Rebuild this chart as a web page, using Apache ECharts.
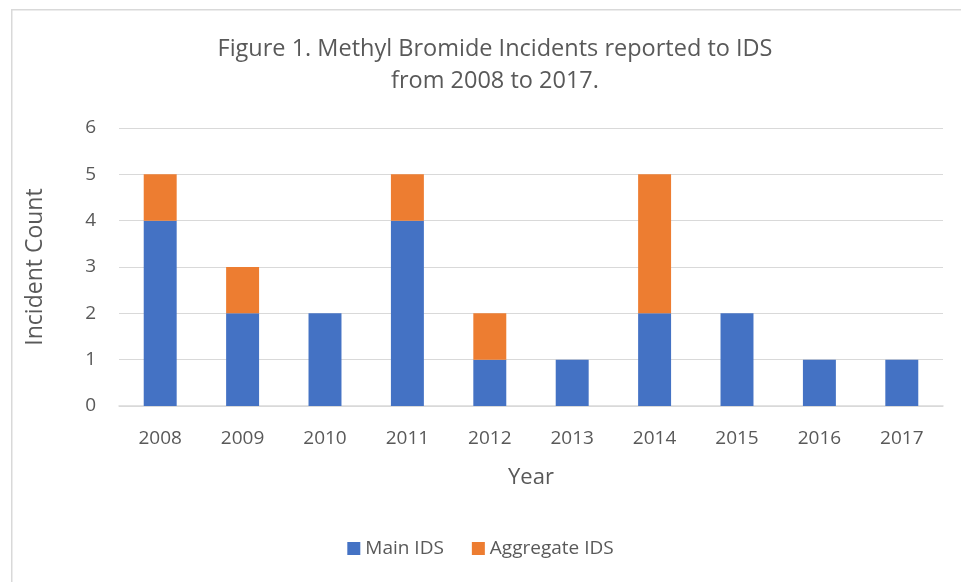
<!DOCTYPE html>
<html>
<head>
<meta charset="utf-8">
<script src="https://cdn.jsdelivr.net/npm/echarts@6/dist/echarts.min.js"></script>
<style>
html,body{margin:0;padding:0;background:#fff;}
#chart{width:961px;height:582px;}
</style>
</head>
<body>
<div id="chart"></div>
<script>
var years = ['2008','2009','2010','2011','2012','2013','2014','2015','2016','2017'];
var mainIDS = [4, 2, 2, 4, 1, 1, 2, 2, 1, 1];
var aggregateIDS = [1, 1, 0, 1, 1, 0, 3, 0, 0, 0];
var yTicks = [0, 6, 1];

var font = '"Open Sans", "Liberation Sans", sans-serif';
var txt = '#595959';
var chart = echarts.init(document.getElementById('chart'));
chart.setOption({
  animation: false,
  graphic: [{
    type: 'rect', left: 11, top: 9, z: -1,
    shape: { width: 960, height: 580 },
    style: { fill: '#fff', stroke: '#d9d9d9', lineWidth: 1.5 }
  }],
  title: {
    text: 'Figure 1. Methyl Bromide Incidents reported to IDS\nfrom 2008 to 2017.',
    left: 490, top: 28, textAlign: 'center',
    textStyle: { fontFamily: font, fontSize: 23.5, fontWeight: 'normal', color: txt, lineHeight: 32 }
  },
  legend: {
    bottom: 19, left: 'center', itemWidth: 13, itemHeight: 13, itemGap: 28,
    icon: 'rect',
    textStyle: { fontFamily: font, fontSize: 19, color: txt },
    data: ['Main IDS', 'Aggregate IDS']
  },
  grid: { left: 119, right: 18, top: 128, bottom: 176 },
  xAxis: {
    type: 'category', data: years,
    name: 'Year', nameLocation: 'middle', nameGap: 61,
    nameTextStyle: { fontFamily: font, fontSize: 22, color: txt },
    axisLine: { lineStyle: { color: '#d9d9d9', width: 1.5 } },
    axisTick: { show: false },
    axisLabel: { fontFamily: font, fontSize: 19, color: txt, margin: 23 }
  },
  yAxis: {
    type: 'value', min: yTicks[0], max: yTicks[1], interval: yTicks[2],
    name: 'Incident Count', nameLocation: 'middle', nameGap: 72,
    nameTextStyle: { fontFamily: font, fontSize: 23, color: txt },
    axisLine: { show: false }, axisTick: { show: false },
    axisLabel: { fontFamily: font, fontSize: 19, color: txt, margin: 23 },
    splitLine: { lineStyle: { color: '#d9d9d9', width: 1 } }
  },
  series: [{
    name: 'Main IDS', type: 'bar', stack: 'a', data: mainIDS,
    barCategoryGap: '60%', itemStyle: { color: '#4472C4' }
  }, {
    name: 'Aggregate IDS', type: 'bar', stack: 'a', data: aggregateIDS,
    itemStyle: { color: '#ED7D31' }
  }]
});
</script>
</body>
</html>
